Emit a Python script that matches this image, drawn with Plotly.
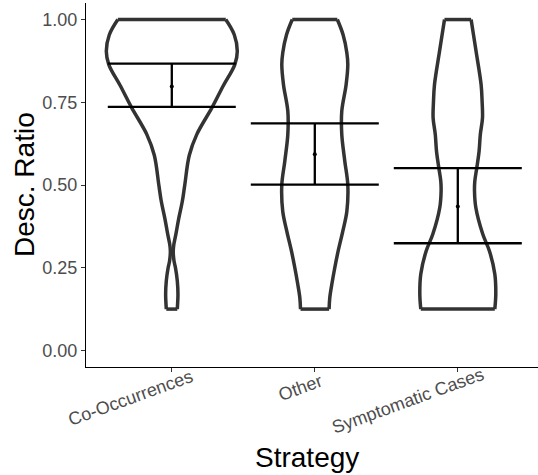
import math
import plotly.graph_objects as go

# Strategy groups and summary statistics of the description ratio
categories = ["Co-Occurrences", "Other", "Symptomatic Cases"]
means = [0.798, 0.593, 0.435]
upper = [0.867, 0.686, 0.551]
lower = [0.736, 0.501, 0.324]

# Density profiles (relative to the widest point) at the given ratio levels
cooc_levels = [0.125, 0.17, 0.21, 0.25, 0.27, 0.30, 0.32, 0.35, 0.40, 0.45,
               0.50, 0.59, 0.653, 0.733, 0.80, 0.864, 0.904, 0.954, 1.00]
cooc_density = [0.084, 0.094, 0.084, 0.056, 0.034, 0.022, 0.031, 0.061, 0.107, 0.160,
                0.198, 0.267, 0.382, 0.611, 0.786, 0.962, 1.000, 0.954, 0.824]

other_levels = [0.125, 0.16, 0.20, 0.25, 0.30, 0.36, 0.42, 0.50, 0.572, 0.653,
                0.723, 0.803, 0.864, 0.90, 0.954, 1.00]
other_density = [0.218, 0.229, 0.260, 0.305, 0.356, 0.427, 0.489, 0.504, 0.458, 0.412,
                 0.412, 0.478, 0.504, 0.489, 0.432, 0.344]

sympt_levels = [0.125, 0.17, 0.231, 0.30, 0.351, 0.432, 0.482, 0.512, 0.552, 0.602,
                0.653, 0.703, 0.753, 0.803, 0.904, 1.00]
sympt_density = [0.565, 0.580, 0.565, 0.484, 0.382, 0.275, 0.255, 0.260, 0.290, 0.325,
                 0.344, 0.377, 0.371, 0.356, 0.279, 0.203]

y_ticks = [0.0, 0.25, 0.5, 0.75, 1.0]

profiles = [(cooc_levels, cooc_density), (other_levels, other_density),
            (sympt_levels, sympt_density)]

MAX_HALF = 0.458          # half width of the widest violin, in category units
OUTLINE = "#333333"
LINE_W = 3.5
FONT = "Liberation Sans, Arial, sans-serif"

fig = go.Figure()

for i, (levels, dens) in enumerate(profiles):
    c = i + 1
    left = [c - d * MAX_HALF for d in dens]
    right = [c + d * MAX_HALF for d in dens]
    # both sides of the violin, smoothed
    for xs in (left, right):
        fig.add_trace(go.Scatter(x=xs, y=levels, mode="lines",
                                 line=dict(color=OUTLINE, width=LINE_W,
                                           shape="spline", smoothing=1),
                                 hoverinfo="skip", showlegend=False))
    # flat trimmed ends at min and max
    fig.add_trace(go.Scatter(x=[left[0], right[0], None, left[-1], right[-1]],
                             y=[levels[0], levels[0], None, levels[-1], levels[-1]],
                             mode="lines", line=dict(color=OUTLINE, width=LINE_W),
                             hoverinfo="skip", showlegend=False))

# mean with error bars
fig.add_trace(go.Scatter(
    x=[1, 2, 3], y=means, mode="markers",
    marker=dict(color="black", size=4),
    error_y=dict(type="data", symmetric=False,
                 array=[u - m for u, m in zip(upper, means)],
                 arrayminus=[m - l for m, l in zip(means, lower)],
                 color="black", thickness=2.3, width=64),
    showlegend=False))

fig.update_xaxes(range=[0.4, 0.4 + 452 / 143], tickvals=[1, 2, 3], showticklabels=False,
                 showline=True, linecolor="black", linewidth=1.1,
                 ticks="outside", ticklen=4, tickcolor="#333333", tickwidth=1.1,
                 showgrid=False, zeroline=False, fixedrange=True)
fig.update_yaxes(range=[-0.05, 1.05], tickvals=y_ticks,
                 ticktext=[f"{v:.2f}" for v in y_ticks],
                 tickfont=dict(family=FONT, size=18, color="#4D4D4D"),
                 showline=True, linecolor="black", linewidth=1.1,
                 ticks="outside", ticklen=4, tickcolor="#333333", tickwidth=1.1,
                 showgrid=False, zeroline=False, fixedrange=True)

# rotated category labels
ang = math.radians(20)
tick_size = 18
annotations = []
for i, name in enumerate(categories):
    w = len(name) * 0.53 * tick_size
    off = 0.33 * w
    annotations.append(dict(x=i + 1, y=0, xref="x", yref="paper", text=name,
                            showarrow=False, textangle=-20,
                            xanchor="center", yanchor="middle",
                            xshift=-off * math.cos(ang),
                            yshift=-(16 + off * math.sin(ang)),
                            font=dict(family=FONT, size=tick_size, color="#4D4D4D")))

annotations.append(dict(x=0, y=0.5, xref="paper", yref="paper", text="Desc. Ratio",
                        showarrow=False, textangle=-90, xanchor="center", yanchor="middle",
                        xshift=-62, font=dict(family=FONT, size=28, color="black")))
annotations.append(dict(x=0.488, y=0, xref="paper", yref="paper", text="Strategy",
                        showarrow=False, xanchor="center", yanchor="middle",
                        yshift=-90, font=dict(family=FONT, size=28, color="black")))

fig.update_layout(width=538, height=475, margin=dict(l=86, r=0, t=3, b=108),
                  paper_bgcolor="white", plot_bgcolor="white",
                  annotations=annotations, showlegend=False)

fig.write_html("out.html")
